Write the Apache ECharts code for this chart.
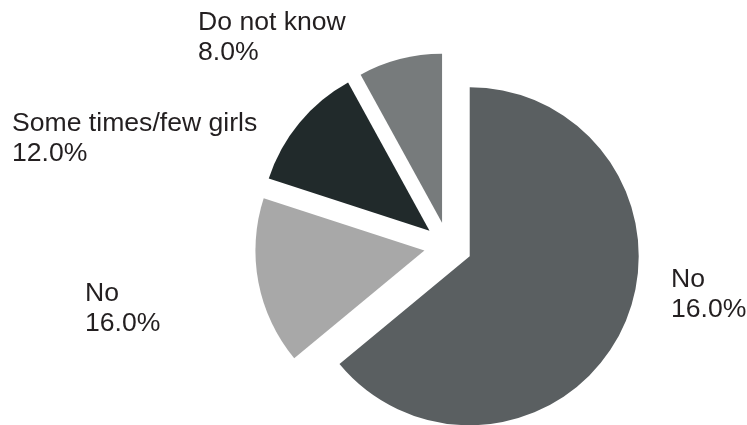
<!DOCTYPE html>
<html>
<head>
<meta charset="utf-8">
<script src="https://cdn.jsdelivr.net/npm/echarts@6/dist/echarts.min.js"></script>
<style>
html,body{margin:0;padding:0;background:#fff;}
#chart{width:747px;height:425px;}
</style>
</head>
<body>
<div id="chart"></div>
<script>
// Data
var categories = ["No", "No", "Some times/few girls", "Do not know"];
var values = [64, 16, 12, 8];
var shownPercents = ["16.0%", "16.0%", "12.0%", "8.0%"];

// Styles
var colors = ["#5a5f61", "#a8a8a8", "#212a2b", "#777b7c"];
var labelPos = [[671, 265], [85, 279], [12, 109], [198, 8]];

var chart = echarts.init(document.getElementById('chart'), null, {renderer: 'canvas'});
chart.setOption({
  animation: false,
  backgroundColor: '#ffffff',
  graphic: categories.map(function (c, i) {
    return {
      type: 'text',
      left: labelPos[i][0],
      top: labelPos[i][1],
      silent: true,
      style: {
        text: c + '\n' + shownPercents[i],
        fontFamily: 'Liberation Sans, Arial, sans-serif',
        fontSize: 26.6,
        lineHeight: 30,
        fill: '#231f20',
        align: 'left',
        verticalAlign: 'top'
      }
    };
  }),
  series: [{
    type: 'pie',
    center: [448, 246],
    radius: 169,
    startAngle: 90,
    clockwise: true,
    selectedMode: 'multiple',
    selectedOffset: 24,
    emphasis: {disabled: true},
    silent: true,
    label: {show: false},
    labelLine: {show: false},
    data: categories.map(function (c, i) {
      return {name: c, value: values[i], selected: true, itemStyle: {color: colors[i]}};
    })
  }]
});
</script>
</body>
</html>
